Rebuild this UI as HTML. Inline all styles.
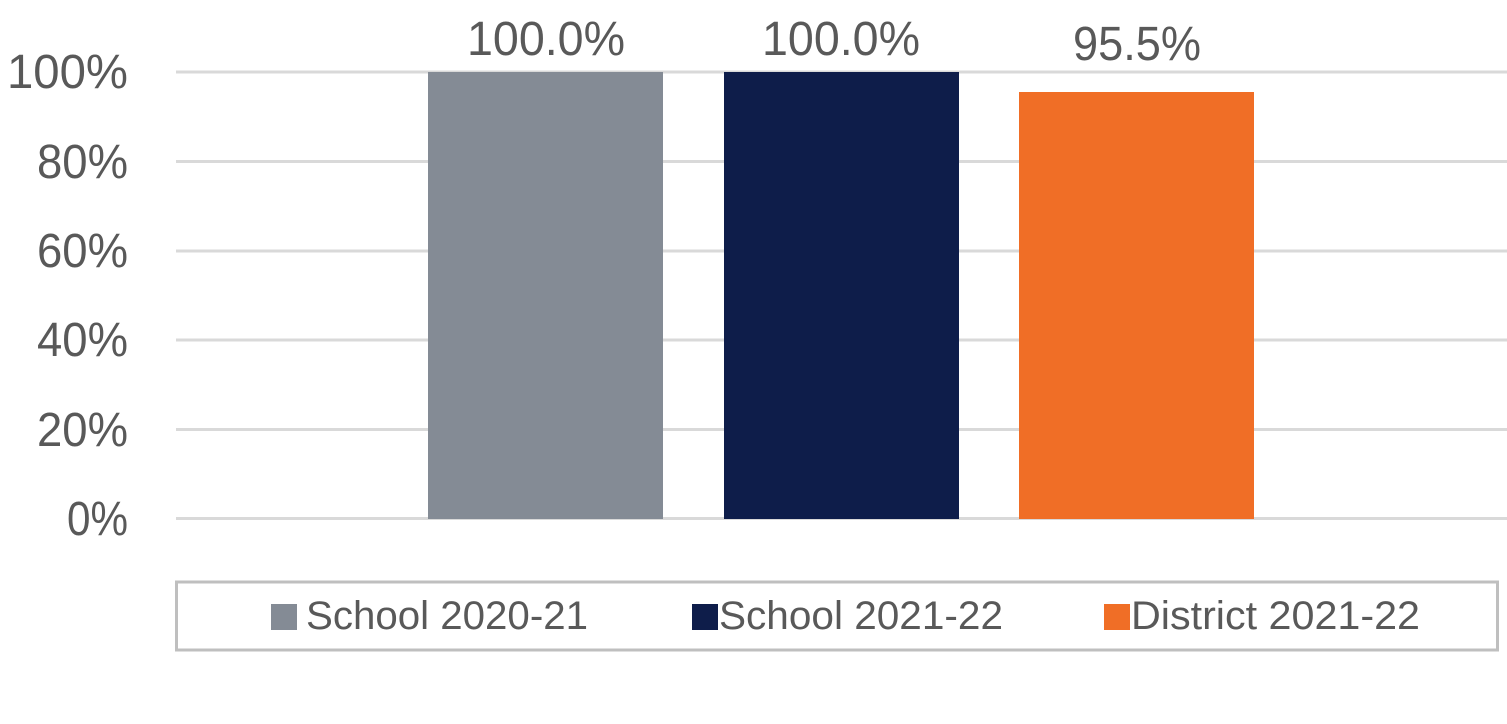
<!DOCTYPE html>
<html><head><meta charset="utf-8"><style>html,body{margin:0;padding:0;background:#fff}svg{display:block}</style></head>
<body>
<svg width="1507" height="724" xmlns="http://www.w3.org/2000/svg" font-family="Liberation Sans, sans-serif" fill="#595959">
<g stroke="#d9d9d9" stroke-width="3">
<line x1="176" x2="1507" y1="72" y2="72"/>
<line x1="176" x2="1507" y1="161.5" y2="161.5"/>
<line x1="176" x2="1507" y1="251" y2="251"/>
<line x1="176" x2="1507" y1="340" y2="340"/>
<line x1="176" x2="1507" y1="429.5" y2="429.5"/>
<line x1="176" x2="1507" y1="518.5" y2="518.5"/>
</g>
<rect x="428" y="72" width="235" height="447" fill="#848b95"/>
<rect x="724" y="72" width="235" height="447" fill="#0e1d4a"/>
<rect x="1019" y="92" width="235" height="427" fill="#f06e26"/>
<g font-size="48" text-anchor="end">
<text x="128" y="88" textLength="121" lengthAdjust="spacingAndGlyphs">100%</text>
<text x="128" y="178" textLength="91" lengthAdjust="spacingAndGlyphs">80%</text>
<text x="128" y="267" textLength="91" lengthAdjust="spacingAndGlyphs">60%</text>
<text x="128" y="356" textLength="91" lengthAdjust="spacingAndGlyphs">40%</text>
<text x="128" y="446" textLength="91" lengthAdjust="spacingAndGlyphs">20%</text>
<text x="128" y="535" textLength="61" lengthAdjust="spacingAndGlyphs">0%</text>
</g>
<g font-size="48" text-anchor="middle">
<text x="546" y="55" textLength="158" lengthAdjust="spacingAndGlyphs">100.0%</text>
<text x="841" y="55" textLength="158" lengthAdjust="spacingAndGlyphs">100.0%</text>
<text x="1137" y="60" textLength="128" lengthAdjust="spacingAndGlyphs">95.5%</text>
</g>
<rect x="176.5" y="582" width="1321" height="68" fill="none" stroke="#bfbfbf" stroke-width="3"/>
<g font-size="40">
<rect x="271" y="604" width="26" height="26" fill="#848b95"/>
<text x="306" y="629" textLength="282" lengthAdjust="spacingAndGlyphs">School 2020-21</text>
<rect x="692" y="604" width="26" height="26" fill="#0e1d4a"/>
<text x="719" y="629" textLength="284" lengthAdjust="spacingAndGlyphs">School 2021-22</text>
<rect x="1104" y="604" width="26" height="26" fill="#f06e26"/>
<text x="1131" y="629" textLength="289" lengthAdjust="spacingAndGlyphs">District 2021-22</text>
</g>
</svg>
</body></html>
